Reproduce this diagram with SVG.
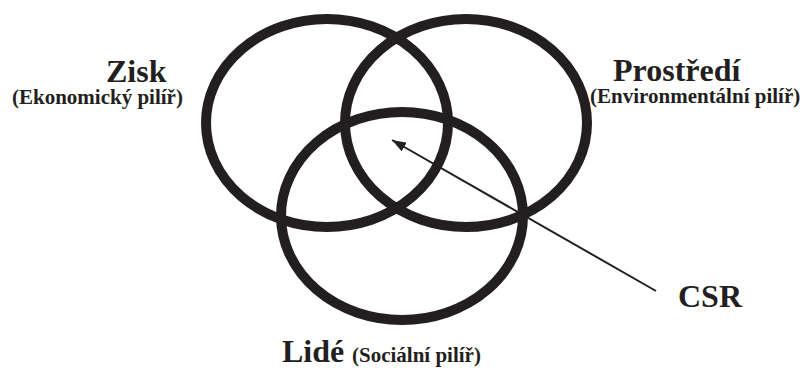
<svg xmlns="http://www.w3.org/2000/svg" width="804" height="368" viewBox="0 0 804 368">
<defs>
<style>
.ring{fill:none;stroke:#231f20;stroke-width:10}
.big{font-family:"Liberation Serif","Times New Roman",serif;font-weight:bold;font-size:32px;fill:#231f20}
.small{font-family:"Liberation Serif","Times New Roman",serif;font-weight:bold;font-size:21px;fill:#231f20}
.conn{stroke:#231f20;stroke-width:2;fill:none}
</style>
<marker id="arrow" viewBox="0 0 14 10" refX="14" refY="5" markerWidth="14" markerHeight="10" markerUnits="userSpaceOnUse" orient="auto">
<path d="M0,0 L14,5 L0,10 z" fill="#231f20"/>
</marker>
</defs>
<rect width="804" height="368" fill="#ffffff"/>
<g id="zisk">
<ellipse class="ring" cx="327" cy="123" rx="121" ry="104"/>
<text class="big" x="106" y="82">Zisk</text>
<text class="small" x="12" y="104">(Ekonomický pilíř)</text>
</g>
<g id="prostredi">
<ellipse class="ring" cx="466" cy="123" rx="121" ry="104"/>
<text class="big" x="613" y="81">Prostředí</text>
<text class="small" x="590" y="103">(Environmentální pilíř)</text>
</g>
<g id="lide">
<ellipse class="ring" cx="402" cy="216" rx="121" ry="104"/>
<text class="big" x="282" y="362">Lidé<tspan class="small" x="352">(Sociální pilíř)</tspan></text>
</g>
<g id="csr">
<text class="big" x="678" y="307">CSR</text>
</g>
<g id="connectors">
<line class="conn" x1="656" y1="291" x2="392" y2="140" marker-end="url(#arrow)"/>
</g>
</svg>
